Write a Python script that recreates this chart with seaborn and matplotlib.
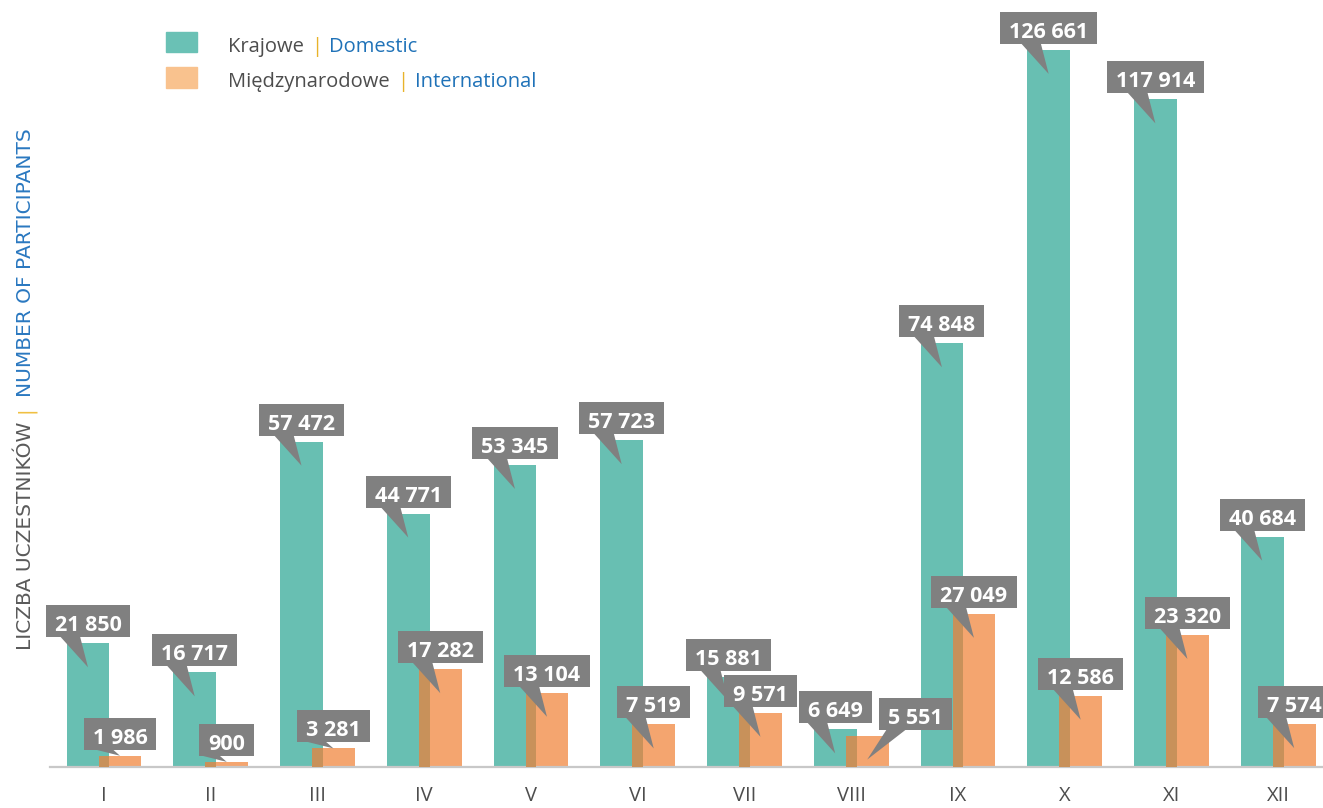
import matplotlib
matplotlib.use("Agg")
import matplotlib.pyplot as plt
from matplotlib.patches import Rectangle, Polygon
from matplotlib.transforms import IdentityTransform
import seaborn as sns

months = ["I", "II", "III", "IV", "V", "VI", "VII", "VIII", "IX", "X", "XI", "XII"]
domestic = [21850, 16717, 57472, 44771, 53345, 57723, 15881, 6649, 74848, 126661, 117914, 40684]
international = [1986, 900, 3281, 17282, 13104, 7519, 9571, 5551, 27049, 12586, 23320, 7574]

TEAL = "#68bfb2"
ORANGE = "#f4a56f"
OVERLAP = "#c8915a"
GREY_BOX = "#808080"
TXT = "#4d4d4d"
BLUE = "#1f72b8"
GOLD = "#e8b32a"

sns.set_theme(style="white")
plt.rcParams["font.family"] = ["Open Sans", "DejaVu Sans"]

fig = plt.figure(figsize=(13.23, 8.08), dpi=100)
ax = fig.add_axes([50 / 1323, 41 / 808, 1 - 50 / 1323, 736 / 808])

sns.barplot(x=months, y=domestic, color=TEAL, width=0.4, errorbar=None,
            saturation=1, ax=ax)
n_dom = len(ax.patches)
sns.barplot(x=months, y=international, color=ORANGE, width=0.4, errorbar=None,
            saturation=1, ax=ax)
dom_bars = ax.patches[:n_dom]
int_bars = ax.patches[n_dom:]
for p in dom_bars:
    p.set_x(p.get_x() - 0.15)
    p.set_linewidth(0)
for p in int_bars:
    p.set_x(p.get_x() + 0.15)
    p.set_linewidth(0)

# darker band where the two bars overlap
for d, o in zip(dom_bars, int_bars):
    right = d.get_x() + d.get_width()
    ax.add_patch(Rectangle((o.get_x(), 0), right - o.get_x(),
                           min(o.get_height(), d.get_height()),
                           color=OVERLAP, lw=0, zorder=3))

ax.set_xlim(-0.506, 11.42)
ax.set_ylim(0, 130000)
ax.set_yticks([])
ax.set_ylabel("")
ax.set_xticks(range(len(months)))
ax.set_xticklabels(months, fontsize=14.5, color=TXT)
ax.tick_params(axis="x", length=0, pad=13.5)
for s in ["top", "right", "left"]:
    ax.spines[s].set_visible(False)
ax.spines["bottom"].set_color("#c8c8c8")
ax.spines["bottom"].set_linewidth(1.6)

renderer = fig.canvas.get_renderer()
to_px = ax.transData.transform
from_px = ax.transData.inverted().transform


def fmt(v):
    return f"{v:,}".replace(",", " ")


def callout(cx, top, label, z, shift=0):
    bx, by = to_px((cx, top))
    base_y = to_px((cx, 0))[1]
    tip_y = by - 24 if by - base_y > 30 else by
    ccx = bx + shift
    t = ax.text(*from_px((ccx, by + 12)), label, ha="center", va="baseline",
                color="white", fontsize=15.5, fontweight="bold", zorder=z + 1,
                clip_on=False)
    w = t.get_window_extent(renderer).width + 18
    (x0, y0) = from_px((ccx - w / 2, by + 6))
    (x1, y1) = from_px((ccx + w / 2, by + 38))
    ax.add_patch(Rectangle((x0, y0), x1 - x0, y1 - y0, color=GREY_BOX,
                           lw=0, zorder=z, clip_on=False))
    pts = [from_px((ccx - 28, by + 7)), from_px((ccx - 8, by + 7)),
           from_px((bx, tip_y))]
    ax.add_patch(Polygon(pts, closed=True, color=GREY_BOX, lw=0, zorder=z,
                         clip_on=False))


label_shift = {7: 48}
z = 10
for i, (d, o) in enumerate(zip(dom_bars, int_bars)):
    callout(d.get_x() + d.get_width() / 2, d.get_height(), fmt(domestic[i]), z)
    z += 2
    callout(o.get_x() + o.get_width() / 2, o.get_height(), fmt(international[i]),
            z, shift=label_shift.get(i, 0))
    z += 2


def rich(x, y, parts, rotation=0, **kw):
    # x, y in pixels from the top-left corner
    y = 808 - y
    for s, c, gap in parts:
        t = fig.text(x, y, s, color=c, rotation=rotation, transform=IdentityTransform(),
                     va="center" if rotation == 0 else "bottom",
                     ha="left" if rotation == 0 else "center", **kw)
        bb = t.get_window_extent(renderer)
        if rotation == 0:
            x += bb.width + gap
        else:
            y += bb.height + gap


# legend
fig.patches.append(Rectangle((166, 808 - 52), 31, 20, color="#6ac1b5",
                             transform=IdentityTransform(), figure=fig))
fig.patches.append(Rectangle((166, 808 - 88), 31, 21, color="#f9c28e",
                             transform=IdentityTransform(), figure=fig))
rich(228, 47, [("Krajowe", TXT, 7), ("|", GOLD, 7), ("Domestic", BLUE, 0)], fontsize=14.5)
rich(228, 82, [("Międzynarodowe", TXT, 7), ("|", GOLD, 7), ("International", BLUE, 0)],
     fontsize=14.5)

# vertical axis title
rich(26, 650, [("LICZBA UCZESTNIKÓW", "#5a5a5a", 9), ("|", "#f0c040", 9),
               ("NUMBER OF PARTICIPANTS", "#2a78c0", 0)],
     rotation=90, fontsize=14.5, family="DejaVu Sans")

fig.savefig("out.png", dpi=100)
